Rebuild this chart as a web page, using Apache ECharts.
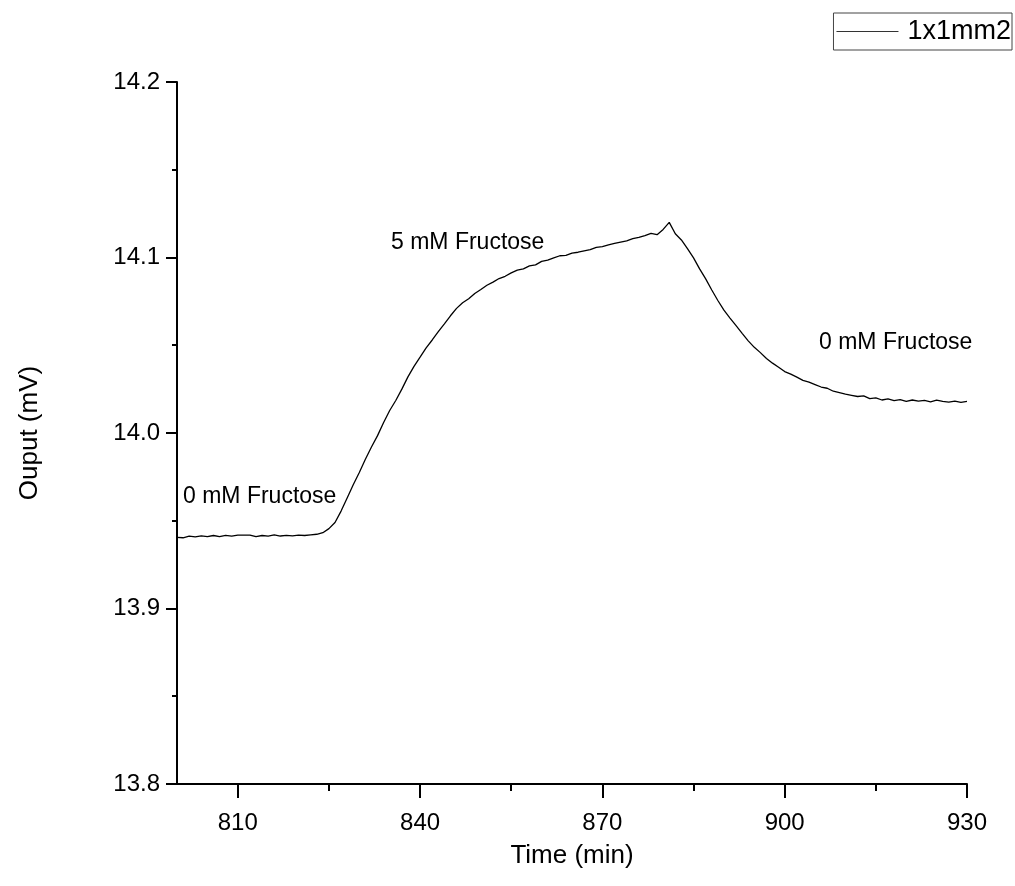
<!DOCTYPE html>
<html>
<head>
<meta charset="utf-8">
<title>Ouput vs Time</title>
<script src="https://cdn.jsdelivr.net/npm/echarts@6/dist/echarts.min.js"></script>
<style>
  html, body { margin: 0; padding: 0; background: #ffffff; }
  #chart { width: 1015px; height: 886px; }
</style>
</head>
<body>
<div id="chart"></div>
<script>
// Sensor output (mV) sampled once per minute
const time = [
  800, 801, 802, 803, 804, 805, 806, 807, 808, 809,
  810, 811, 812, 813, 814, 815, 816, 817, 818, 819,
  820, 821, 822, 823, 824, 825, 826, 827, 828, 829,
  830, 831, 832, 833, 834, 835, 836, 837, 838, 839,
  840, 841, 842, 843, 844, 845, 846, 847, 848, 849,
  850, 851, 852, 853, 854, 855, 856, 857, 858, 859,
  860, 861, 862, 863, 864, 865, 866, 867, 868, 869,
  870, 871, 872, 873, 874, 875, 876, 877, 878, 879,
  880, 881, 882, 883, 884, 885, 886, 887, 888, 889,
  890, 891, 892, 893, 894, 895, 896, 897, 898, 899,
  900, 901, 902, 903, 904, 905, 906, 907, 908, 909,
  910, 911, 912, 913, 914, 915, 916, 917, 918, 919,
  920, 921, 922, 923, 924, 925, 926, 927, 928, 929,
  930
];

const output = [
  13.9405, 13.9403, 13.9412, 13.9408, 13.9414, 13.9409, 13.9416, 13.9410, 13.9417, 13.9412,
  13.9418, 13.9418, 13.9418, 13.9410, 13.9416, 13.9412, 13.9419, 13.9413, 13.9417, 13.9414,
  13.9418, 13.9416, 13.9420, 13.9423, 13.9432, 13.9455, 13.9490, 13.9555, 13.9630, 13.9705,
  13.9775, 13.9850, 13.9920, 13.9985, 14.0060, 14.0128, 14.0185, 14.0250, 14.0320, 14.0380,
  14.0432, 14.0485, 14.0530, 14.0578, 14.0622, 14.0668, 14.0710, 14.0742, 14.0765, 14.0795,
  14.0818, 14.0842, 14.0860, 14.0880, 14.0893, 14.0912, 14.0928, 14.0935, 14.0952, 14.0958,
  14.0978, 14.0985, 14.0998, 14.1010, 14.1012, 14.1025, 14.1030, 14.1038, 14.1045, 14.1058,
  14.1062, 14.1072, 14.1080, 14.1088, 14.1095, 14.1108, 14.1115, 14.1125, 14.1138, 14.1130,
  14.1160, 14.1200, 14.1135, 14.1100, 14.1050, 14.0998, 14.0935, 14.0878, 14.0815, 14.0755,
  14.0700, 14.0655, 14.0612, 14.0568, 14.0525, 14.0488, 14.0458, 14.0425, 14.0398, 14.0375,
  14.0350, 14.0335, 14.0318, 14.0300, 14.0290, 14.0276, 14.0262, 14.0255, 14.0238, 14.0230,
  14.0222, 14.0215, 14.0208, 14.0212, 14.0196, 14.0200, 14.0188, 14.0194, 14.0184, 14.0190,
  14.0180, 14.0188, 14.0182, 14.0186, 14.0178, 14.0187, 14.0180, 14.0176, 14.0182, 14.0175,
  14.0180
];

// Axis ticks
const xMajorTicks = [810, 840, 870, 900, 930];
const xMinorTicks = [825, 855, 885, 915];
const seriesName = '1x1mm2';

// Phase annotations
const annotations = [
  { text: '0 mM Fructose', x: 183, y: 497 },
  { text: '5 mM Fructose', x: 391, y: 243 },
  { text: '0 mM Fructose', x: 819, y: 343 }
];

const FONT = "'Liberation Sans', Arial, sans-serif";
const chart = echarts.init(document.getElementById('chart'), null, { renderer: 'canvas' });

const points = time.map((t, i) => [t, output[i]]);

chart.setOption({
  backgroundColor: '#ffffff',
  animation: false,
  textStyle: { fontFamily: FONT, color: '#000' },
  grid: { left: 177, right: 48, top: 82, bottom: 102, containLabel: false },
  legend: {
    show: true,
    right: 3,
    top: 13,
    padding: [5, 1, 5, 3],
    itemGap: 0,
    itemWidth: 62,
    itemHeight: 1,
    icon: 'rect',
    borderColor: '#444',
    borderWidth: 1,
    textStyle: { fontFamily: FONT, fontSize: 27, color: '#000', padding: [0, 0, 0, 4] },
    data: [{ name: seriesName, itemStyle: { color: '#333' } }]
  },
  xAxis: [
    {
      type: 'value',
      min: 800,
      max: 930,
      name: 'Time (min)',
      nameLocation: 'middle',
      nameGap: 59,
      nameTextStyle: { fontFamily: FONT, fontSize: 26, color: '#000' },
      axisLine: { show: true, onZero: false, lineStyle: { color: '#000', width: 2 } },
      axisTick: { show: true, length: 14, customValues: xMajorTicks, lineStyle: { color: '#000', width: 2 } },
      axisLabel: { show: true, customValues: xMajorTicks, margin: 27, fontFamily: FONT, fontSize: 24, color: '#000' },
      splitLine: { show: false }
    },
    {
      type: 'value',
      min: 800,
      max: 930,
      position: 'bottom',
      axisLine: { show: false },
      axisTick: { show: true, length: 7, customValues: xMinorTicks, lineStyle: { color: '#000', width: 2 } },
      axisLabel: { show: false },
      splitLine: { show: false }
    }
  ],
  yAxis: {
    type: 'value',
    min: 13.8,
    max: 14.2,
    interval: 0.1,
    name: 'Ouput (mV)',
    nameLocation: 'middle',
    nameGap: 134,
    nameTextStyle: { fontFamily: FONT, fontSize: 26, color: '#000' },
    axisLine: { show: true, onZero: false, lineStyle: { color: '#000', width: 2 } },
    axisTick: { show: true, length: 11, lineStyle: { color: '#000', width: 2 } },
    minorTick: { show: true, splitNumber: 2, length: 5, lineStyle: { color: '#000', width: 2 } },
    axisLabel: {
      margin: 17,
      fontFamily: FONT,
      fontSize: 24,
      color: '#000',
      formatter: v => v.toFixed(1)
    },
    splitLine: { show: false },
    minorSplitLine: { show: false }
  },
  series: [
    {
      name: seriesName,
      type: 'line',
      xAxisIndex: 0,
      data: points,
      showSymbol: false,
      symbol: 'none',
      smooth: false,
      lineStyle: { color: '#000', width: 1.3 },
      itemStyle: { color: '#333' }
    }
  ],
  graphic: annotations.map(a => ({
    type: 'text',
    x: a.x,
    y: a.y,
    style: {
      text: a.text,
      fontFamily: FONT,
      fontSize: 23,
      fill: '#000',
      verticalAlign: 'middle',
      align: 'left'
    }
  }))
});
</script>
</body>
</html>
